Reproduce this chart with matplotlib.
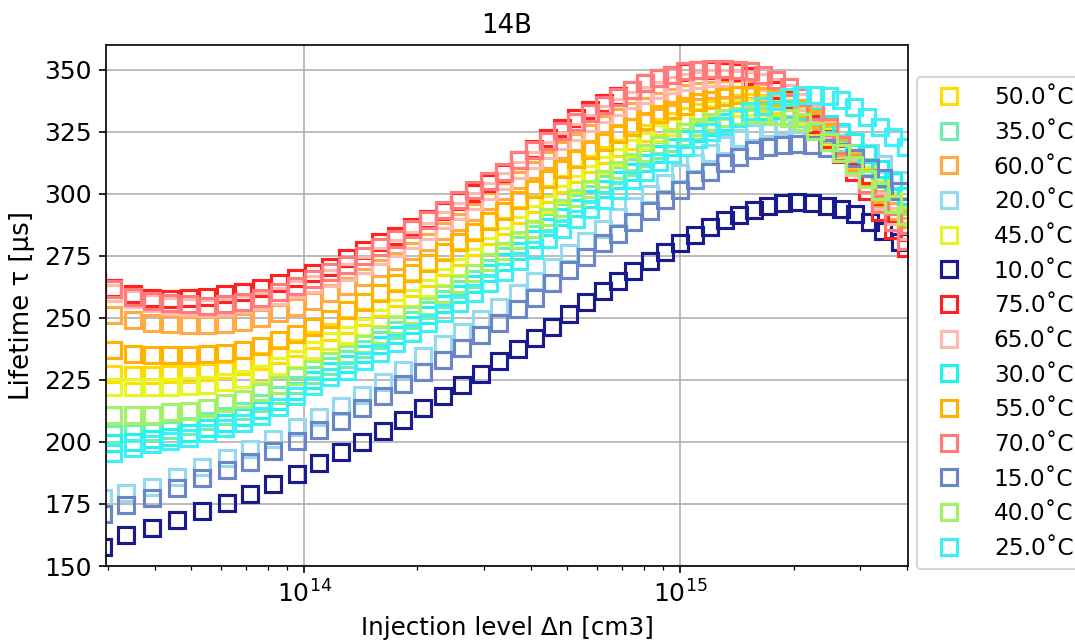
import matplotlib
matplotlib.use("Agg")
import matplotlib.pyplot as plt
import numpy as np

# Injection levels (log10 of cm^-3) for the two sampling grids
LOG_DN_COLD = [13.465, 13.527, 13.596, 13.662, 13.729, 13.795, 13.856, 13.918, 13.981, 14.040,
               14.098, 14.154, 14.210, 14.263, 14.316, 14.370, 14.420, 14.471, 14.519, 14.569,
               14.614, 14.660, 14.705, 14.750, 14.795, 14.835, 14.875, 14.918, 14.960, 15.000,
               15.040, 15.080, 15.120, 15.157, 15.197, 15.234, 15.274, 15.311, 15.351, 15.391,
               15.426, 15.465, 15.505, 15.540, 15.585]
LOG_DN_HOT = [13.450, 13.492, 13.545, 13.596, 13.644, 13.694, 13.742, 13.790, 13.838, 13.886,
              13.934, 13.979, 14.024, 14.069, 14.114, 14.160, 14.202, 14.245, 14.287, 14.330,
              14.372, 14.412, 14.452, 14.492, 14.532, 14.572, 14.612, 14.649, 14.686, 14.723,
              14.761, 14.798, 14.835, 14.872, 14.907, 14.944, 14.979, 15.013, 15.048, 15.082,
              15.117, 15.152, 15.186, 15.221, 15.255, 15.290, 15.324, 15.359, 15.394, 15.428,
              15.463, 15.497, 15.532, 15.566, 15.601]

# Lifetime (us) per temperature
TAU_10 = [157.5, 162.5, 165.5, 168.5, 172, 175.5, 179, 183, 187, 191.5, 196, 200, 204.5, 209, 213.5,
          218.5, 223, 227.5, 232.5, 237.5, 242, 246.5, 251.5, 256.5, 261, 265, 269, 273, 276.5, 280,
          283.5, 286.5, 289.5, 291.5, 293.5, 295, 296.3, 296.8, 296.3, 295, 293.8, 291.8, 288.5, 285, 280.5]
TAU_15 = [171, 174.5, 177.5, 181.5, 185.5, 188.5, 192, 196.5, 200.5, 205, 208.5, 213.5, 218.5, 223.5, 228,
          233, 238, 243, 248, 253.5, 258, 264, 269.5, 274.5, 280, 284, 288.5, 293, 297.5, 301.5,
          305.5, 309, 312.5, 315, 317.5, 318.8, 319.6, 320, 319.8, 318.5, 316.8, 314.5, 310.5, 306.5, 301]
TAU_20 = [177.5, 179.5, 182, 186, 190, 193.5, 197, 201, 206, 210, 214.5, 219, 224, 229, 234.5,
          239.5, 244.5, 249.5, 254.5, 260, 265, 270.5, 276, 281, 286, 290.5, 295, 300, 304.5, 308.5,
          312.5, 316.5, 319.5, 322.5, 325, 326.5, 327.5, 328, 327.5, 326, 324, 321, 316.5, 312, 305.5]
TAU_25 = [193.5, 195.5, 197.5, 199, 200.5, 201.5, 203.5, 205.5, 207.5, 210.5, 214, 218.5, 222.5, 226, 228.5,
          232.5, 236, 240, 244, 248, 252, 256, 260, 264, 268.5, 273, 277.5, 282, 286, 290,
          294, 297.5, 301.5, 305.5, 309, 313, 316, 319, 322, 325, 327.5, 330.5, 333.5, 335.5, 337.5,
          339, 340, 340, 339.5, 338, 335, 331, 327, 323, 319]
TAU_30 = [199, 199.5, 200, 201, 202, 203.5, 205.5, 207.5, 210, 213, 216.5, 220.5, 225, 228.5, 231.5,
          235.5, 239, 243, 247, 251, 255.5, 259.5, 263.5, 268, 272.5, 277, 282, 286.5, 290.5, 294.5,
          298, 302, 305.5, 309, 312.5, 316, 319, 322, 324.5, 327, 329, 331, 333, 333.5, 334,
          334.2, 333.5, 331, 328, 325, 321, 316, 310, 305, 299]
TAU_35 = [203, 203.3, 203.6, 204, 205, 206.5, 208.5, 210.5, 212.5, 215.5, 219, 223, 227, 230.5, 233.5,
          237.5, 241, 245, 249, 253, 257.5, 261.5, 265.5, 270, 275, 279.5, 284, 288.5, 292.5, 296.5,
          300, 304, 307.5, 311, 314.5, 317.5, 320.5, 323, 325.5, 327.5, 329, 330.5, 331, 331.3, 331.5,
          331.3, 330.5, 327.5, 324, 320.5, 316.5, 311, 306, 301, 295]
TAU_40 = [211, 211, 211, 211, 212, 212.5, 213.5, 215.5, 217.5, 220, 223, 226.5, 229.5, 232.5, 235.5,
          239.5, 243, 247, 251, 255, 259.5, 263.5, 268, 272.5, 277, 281.5, 286, 290.5, 294.5, 298.5,
          302, 306, 309.5, 313, 316.5, 319.5, 322.5, 325, 327, 329, 330.5, 331.5, 332, 332, 331.5,
          330.5, 329, 325.5, 321, 316.5, 311.5, 306, 301, 296, 291]
TAU_45 = [222, 222, 222, 222, 222.3, 222.6, 223, 224, 225.5, 227.5, 230.5, 233.5, 237, 240.5, 243,
          246.5, 250, 254, 258, 262, 266.5, 270.5, 274.5, 279, 283, 287.5, 292, 296, 300, 304,
          308, 311.5, 315, 318.5, 321.5, 324.5, 327, 329, 331, 332.3, 333.5, 334.5, 335, 335, 334.5,
          333.5, 331.5, 327.5, 323, 318, 313, 307.5, 302, 297, 292]
TAU_50 = [228, 227.5, 227, 227, 227.3, 227.5, 228, 229, 230.5, 232.5, 235, 238, 241, 244.5, 247,
          250.5, 254, 258, 262, 266, 270.5, 274.5, 278.5, 283, 287, 291.5, 296, 300, 304, 308,
          312, 315.5, 318.5, 321.5, 324.5, 327, 329.5, 331.5, 333, 334.3, 335.5, 336.5, 337, 336.7, 336,
          334.5, 332.5, 328.5, 324, 319, 313.5, 307.5, 301.5, 296, 291]
TAU_55 = [238.5, 237, 235.5, 235, 235, 235, 235.5, 236, 237, 238.5, 241, 243.5, 246.5, 249.5, 253,
          256.5, 260, 264, 268, 272, 276.5, 280.5, 284.5, 289, 293, 297.5, 302, 306, 310, 314,
          317.5, 321, 324, 327, 329.5, 332, 334, 335.5, 337, 338, 339, 339.7, 340, 339.5, 338.5,
          337, 334.5, 330, 325, 319, 313, 306.5, 300, 295, 290]
TAU_60 = [253.5, 251, 249, 248, 247.5, 247, 247, 247.5, 248.5, 250, 252, 254.5, 257, 260, 263,
          266.5, 270, 273, 277, 280.5, 285, 288.5, 292.5, 297, 301, 305.5, 309.5, 313.5, 317.5, 321,
          324.5, 328, 331, 333.5, 335.5, 337.5, 339, 340.5, 341.5, 342, 342.3, 342.3, 342, 341, 339,
          337, 334, 329, 323.5, 317.5, 311, 304, 298, 293, 287]
TAU_65 = [262.5, 260, 257.5, 256, 255, 254.5, 254, 254.5, 255.5, 257, 259, 261.5, 263.5, 266, 268.5,
          271.5, 275, 278, 281.5, 285, 289.5, 293, 297, 301, 305, 309.5, 313.5, 317.5, 321.5, 325,
          328.5, 332, 335, 338, 340, 342, 344, 345, 346, 346.5, 346.5, 346.2, 346, 345, 343,
          340.5, 337, 332, 326, 318.5, 311, 304, 297, 291, 285]
TAU_70 = [263.5, 261.5, 258.5, 257, 256, 255.5, 255, 255.5, 256.5, 258, 260.5, 263, 265.5, 268.5, 271.5,
          275, 278.5, 282, 286, 289.5, 293.5, 297.5, 301.5, 305, 309, 313.5, 317.5, 321.5, 325.5, 329,
          332.5, 336, 339, 342, 344.5, 346.5, 348, 349.5, 350, 350.5, 350.5, 350, 349.5, 348, 346,
          343, 339, 333.5, 327, 319.5, 312, 304, 296, 288.5, 281]
TAU_75 = [264.5, 262, 259.5, 258, 257.5, 258, 258.5, 259.5, 260.5, 262, 264, 266, 268, 270.5, 274,
          277.5, 280.5, 283, 286.5, 290, 293, 297, 300.5, 304.5, 308.5, 313.5, 318, 322.5, 326.5, 330.5,
          334, 336.5, 339.5, 342, 344.5, 346.5, 348, 349.3, 350, 350, 349.7, 349, 347.5, 345, 342,
          338, 333.5, 328, 322, 316, 309, 301, 292.5, 285.5, 278]

# Legend / drawing order
TEMPS = [50, 35, 60, 20, 45, 10, 75, 65, 30, 55, 70, 15, 40, 25]
SERIES = {10: TAU_10, 15: TAU_15, 20: TAU_20, 25: TAU_25, 30: TAU_30, 35: TAU_35, 40: TAU_40,
          45: TAU_45, 50: TAU_50, 55: TAU_55, 60: TAU_60, 65: TAU_65, 70: TAU_70, 75: TAU_75}
COLORS = {10: '#1a1a8f', 15: '#6b86c6', 20: '#95d9ee', 25: '#3ef0f5', 30: '#22f2ee',
          35: '#6cf0b0', 40: '#a5f06a', 45: '#e8f525', 50: '#ffdc00', 55: '#ffb300',
          60: '#ffaa44', 65: '#ffbab0', 70: '#ff7a7a', 75: '#ff2020'}

plt.rcParams['font.size'] = 12

fig = plt.figure(figsize=(1075 / 150, 643 / 150), dpi=150)
ax = fig.add_axes([106 / 1075, 1 - 566 / 643, 802 / 1075, 521 / 643])

for t in TEMPS:
    y = SERIES[t]
    logx = LOG_DN_COLD if len(y) == len(LOG_DN_COLD) else LOG_DN_HOT
    x = [10 ** v for v in logx]
    ax.plot(x, y, linestyle='none', marker='s', markersize=7.3, markerfacecolor='none',
            markeredgecolor=COLORS[t], markeredgewidth=1.5, label=f'{t:.1f}\u02daC')

ax.set_xscale('log')
ax.set_xlim(2.97e13, 4.03e15)
ax.set_ylim(150, 360)
ax.set_yticks(np.arange(150, 351, 25))
ax.grid(True, which='major', color='#b0b0b0', linewidth=0.8)
ax.set_axisbelow(True)
ax.set_title('14B', fontsize=12.5)
ax.set_xlabel('Injection level \u0394n [cm3]', fontsize=11.8)
ax.set_ylabel('Lifetime \u03c4 [\u00b5s]', fontsize=12.5)
ax.legend(loc='upper left', bbox_to_anchor=(1.011, 0.9386), borderaxespad=0,
          fontsize=11.2, handletextpad=0.9)

fig.savefig('out.png', dpi=150)
